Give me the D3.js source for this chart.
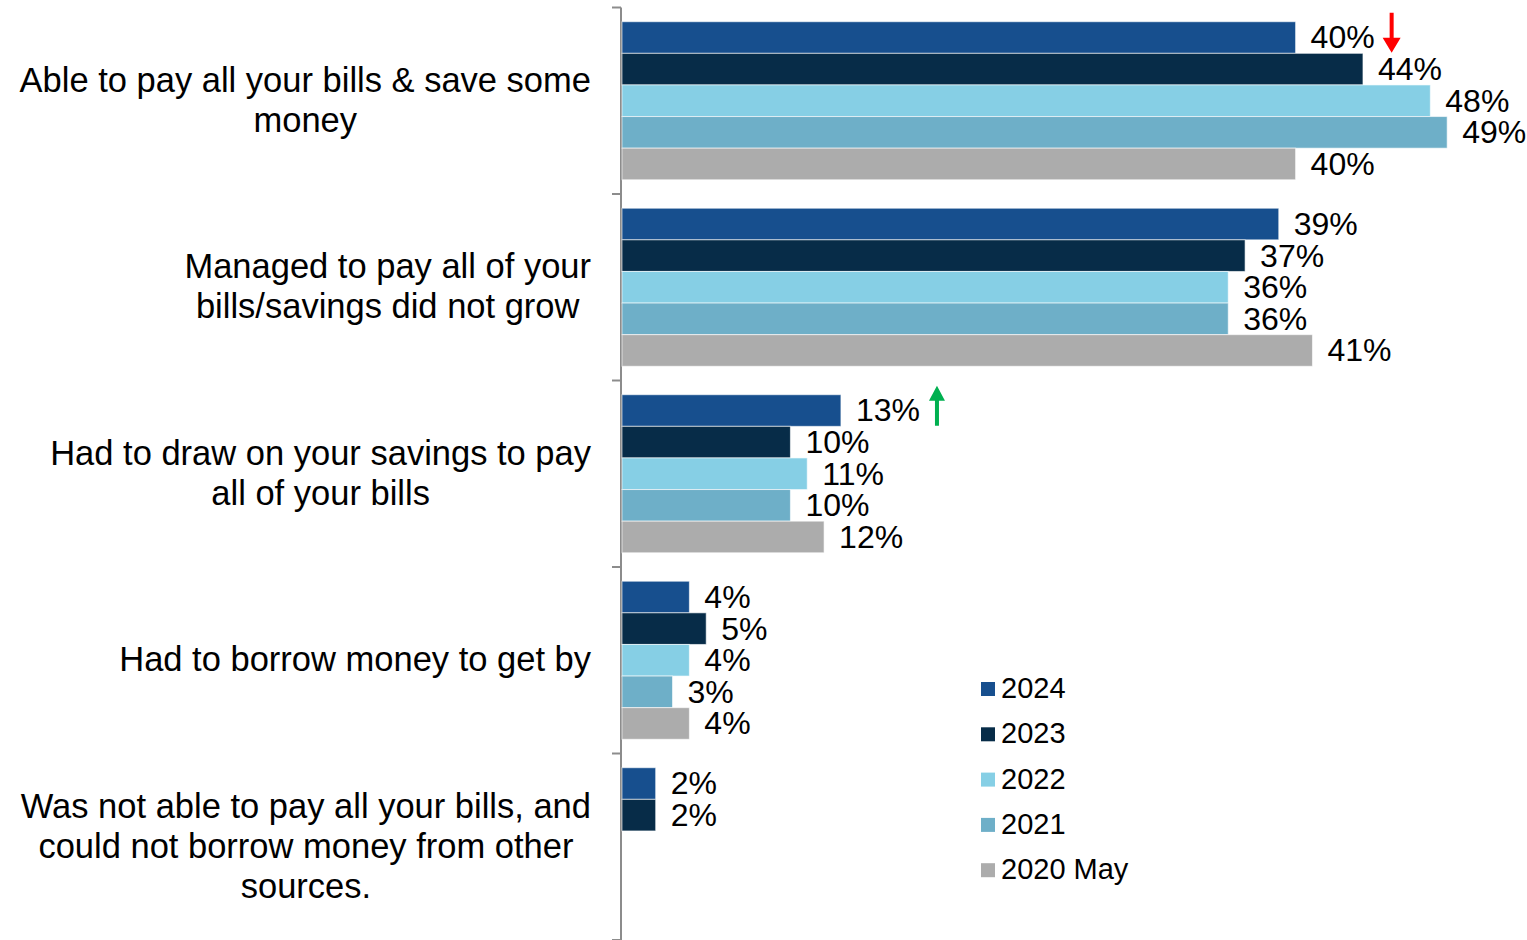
<!DOCTYPE html>
<html>
<head>
<meta charset="utf-8">
<script src="https://cdn.jsdelivr.net/npm/d3@7"></script>
<style>
  html, body { margin: 0; padding: 0; background: #ffffff; }
  svg { display: block; font-family: "Liberation Sans", Arial, sans-serif; }
</style>
</head>
<body>
<svg id="chart" width="1527" height="940"></svg>
<script>
// Survey answers (category axis), top to bottom
const categories = [
  ["Able to pay all your bills & save some", "money"],
  ["Managed to pay all of your", "bills/savings did not grow"],
  ["Had to draw on your savings to pay", "all of your bills"],
  ["Had to borrow money to get by"],
  ["Was not able to pay all your bills, and", "could not borrow money from other", "sources."]
];

// Survey waves, in bar order within each group
const seriesNames = ["2024", "2023", "2022", "2021", "2020 May"];
const seriesColors = ["#174f8e", "#072c48", "#86cfe5", "#6eafc8", "#acacac"];

// Percentages per wave (null = answer not offered that year)
const values2024 = [40, 39, 13, 4, 2];
const values2023 = [44, 37, 10, 5, 2];
const values2022 = [48, 36, 11, 4, null];
const values2021 = [49, 36, 10, 3, null];
const values2020 = [40, 41, 12, 4, null];
const seriesValues = [values2024, values2023, values2022, values2021, values2020];

// Change markers next to the 2024 labels: [category index, direction]
const changeMarkers = [[0, "down"], [2, "up"]];

const svg = d3.select("#chart");

const axisX = 621;
const x = d3.scaleLinear().domain([0, 50]).range([axisX, axisX + 842]);

const catIndex = d3.range(categories.length);
const y = d3.scaleBand().domain(catIndex).range([7.5, 940]).paddingInner(0).paddingOuter(0);
const ySub = d3.scaleBand().domain(d3.range(seriesNames.length))
  .range([0, y.bandwidth()]).paddingInner(0).paddingOuter(0.45);

// Category axis (vertical line with ticks between groups)
const boundaries = catIndex.map(i => y(i)).concat([y(categories.length - 1) + y.bandwidth()]);
svg.append("line")
  .attr("x1", axisX).attr("x2", axisX)
  .attr("y1", boundaries[0]).attr("y2", 940)
  .attr("stroke", "#8c8c8c").attr("stroke-width", 2);
svg.selectAll("line.tick").data(boundaries).join("line")
  .attr("class", "tick")
  .attr("x1", axisX - 9).attr("x2", axisX)
  .attr("y1", d => d).attr("y2", d => d)
  .attr("stroke", "#8c8c8c").attr("stroke-width", 2);

// Bars and value labels
const barData = [];
seriesValues.forEach((vals, s) => {
  vals.forEach((v, c) => {
    if (v !== null) barData.push({ s, c, v });
  });
});

svg.append("g").selectAll("rect").data(barData).join("rect")
  .attr("x", x(0) + 1)
  .attr("y", d => y(d.c) + ySub(d.s))
  .attr("width", d => x(d.v) - x(0))
  .attr("height", ySub.bandwidth())
  .attr("fill", d => seriesColors[d.s])
  .attr("stroke", "#ffffff")
  .attr("stroke-opacity", 0.6)
  .attr("stroke-width", 1);

const labels = svg.append("g").selectAll("text").data(barData).join("text")
  .attr("x", d => x(d.v) + 16)
  .attr("y", d => y(d.c) + ySub(d.s) + ySub.bandwidth() / 2 + 2.5)
  .attr("dominant-baseline", "middle")
  .attr("font-size", 32)
  .attr("fill", "#000")
  .text(d => d.v + "%");

// Change arrows beside the 2024 value labels
changeMarkers.forEach(([c, dir]) => {
  const lbl = labels.filter(d => d.s === 0 && d.c === c).node();
  const bb = lbl.getBBox();
  const ax = bb.x + bb.width + 17;
  const top = y(c) + ySub(0) - 9;
  const bottom = top + 40;
  const color = dir === "down" ? "#ff0000" : "#00b050";
  const path = dir === "down"
    ? `M${ax - 2},${top} L${ax + 2},${top} L${ax + 2},${bottom - 15} L${ax + 9},${bottom - 15} L${ax},${bottom} L${ax - 9},${bottom - 15} L${ax - 2},${bottom - 15} Z`
    : `M${ax},${top} L${ax + 8},${top + 15} L${ax + 2},${top + 15} L${ax + 2},${bottom} L${ax - 2},${bottom} L${ax - 2},${top + 15} L${ax - 8},${top + 15} Z`;
  svg.append("path").attr("d", path).attr("fill", color);
});

// Category labels: centred lines, block right-aligned to the axis
const catGroups = svg.append("g").selectAll("g").data(categories).join("g");
catGroups.each(function (lines, i) {
  const g = d3.select(this);
  const lineH = 40;
  const cy = y(i) + y.bandwidth() / 2 + 2;
  const texts = g.selectAll("text").data(lines).join("text")
    .attr("font-size", 34.5)
    .attr("fill", "#000")
    .attr("text-anchor", "middle")
    .attr("dominant-baseline", "middle")
    .attr("y", (d, k) => cy + (k - (lines.length - 1) / 2) * lineH)
    .text(d => d);
  const maxW = d3.max(texts.nodes(), n => n.getComputedTextLength());
  texts.attr("x", 591 - maxW / 2);
});

// Legend
const legend = svg.append("g").selectAll("g").data(seriesNames).join("g")
  .attr("transform", (d, i) => `translate(981, ${689 + i * 45.3})`);
legend.append("rect")
  .attr("x", 0).attr("y", -7).attr("width", 14).attr("height", 14)
  .attr("fill", (d, i) => seriesColors[i]);
legend.append("text")
  .attr("x", 20).attr("y", 1.5)
  .attr("dominant-baseline", "middle")
  .attr("font-size", 29)
  .attr("fill", "#000")
  .text(d => d);
</script>
</body>
</html>
